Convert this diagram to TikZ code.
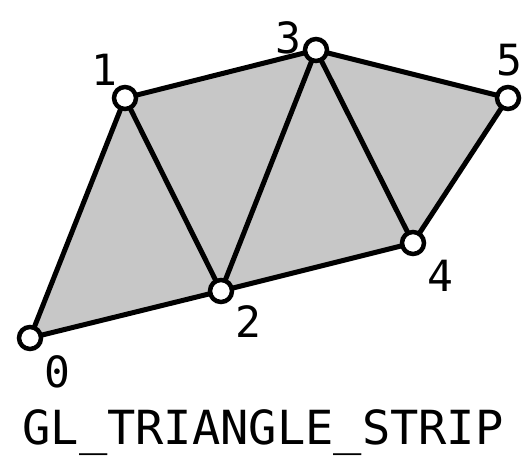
\documentclass[tikz,border=0pt]{standalone}
\usepackage{fontspec}
\setmonofont{DejaVu Sans Mono}
\tikzset{
  vert/.style={circle,draw=black,fill=white,line width=4.5pt,minimum size=22pt,inner sep=0pt},
  edge/.style={line width=5pt,line join=round},
  lbl/.style={font=\fontsize{43}{43}\selectfont\ttfamily}
}
\begin{document}
\begin{tikzpicture}[x=1pt,y=-1pt]
\useasboundingbox (0,0) rectangle (523,462);

\coordinate (p0) at (30,338);
\coordinate (p1) at (125,98);
\coordinate (p2) at (221,291);
\coordinate (p3) at (316,50);
\coordinate (p4) at (413,243);
\coordinate (p5) at (508,98);

\fill[black!22] (p0) -- (p1) -- (p3) -- (p5) -- (p4) -- (p2) -- cycle;
\draw[edge] (p0) -- (p1) -- (p3) -- (p5) -- (p4) -- (p2) -- cycle;
\draw[edge] (p1) -- (p2) -- (p3) -- (p4);

\foreach \i in {0,...,5}
  \node[vert] (v\i) at (p\i) {};

\node[lbl] at (104,70) {1};
\node[lbl] at (288,38) {3};
\node[lbl] at (509,60) {5};
\node[lbl] at (440,276) {4};
\node[lbl] at (248,322) {2};
\node[lbl] at (57,372) {0};
\node[font=\fontsize{47}{47}\selectfont\ttfamily] (title) at (263,433) {GL\_TRIANGLE\_STRIP};
\end{tikzpicture}
\end{document}
